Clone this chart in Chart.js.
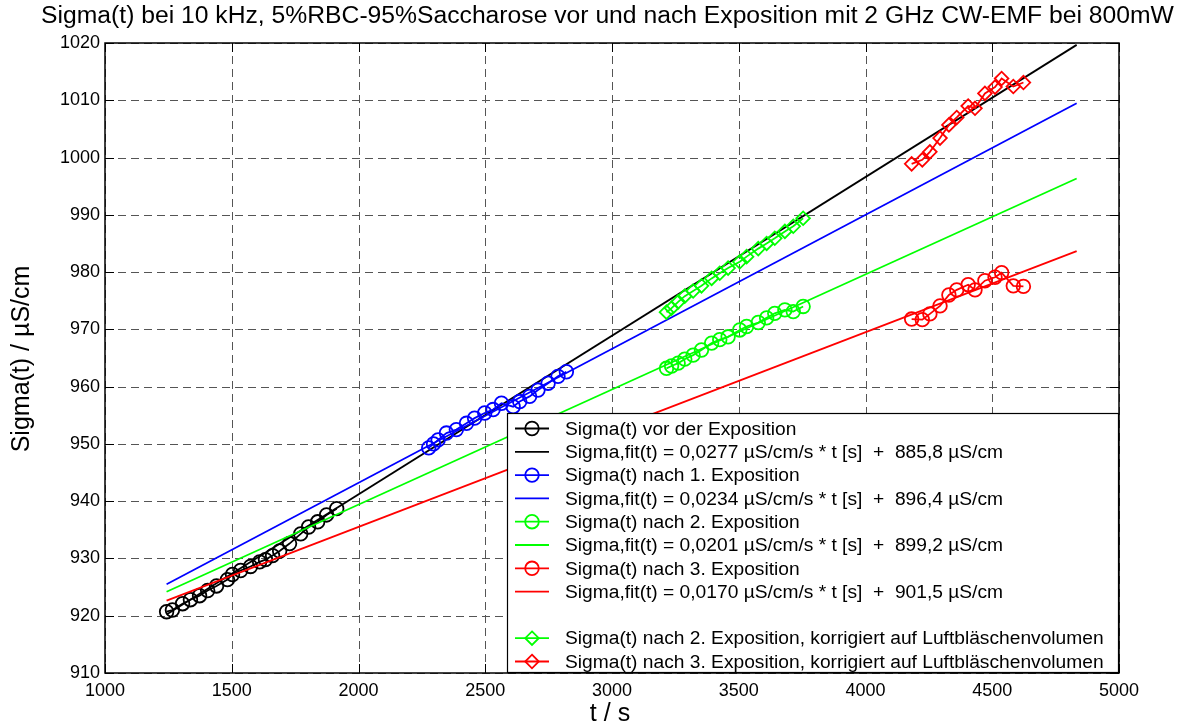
<!DOCTYPE html>
<html>
<head>
<meta charset="utf-8">
<title>Sigma(t) bei 10 kHz</title>
<script src="https://cdn.jsdelivr.net/npm/chart.js@4.4.1/dist/chart.umd.min.js"></script>
<style>
  html, body { margin: 0; padding: 0; background: #fff; overflow: hidden; }
  canvas { display: block; }
</style>
</head>
<body>
<canvas id="chart" width="1186" height="727"></canvas>
<script>
// Axis ticks
const xTicks = [1000, 1500, 2000, 2500, 3000, 3500, 4000, 4500, 5000];
const yTicks = [910, 920, 930, 940, 950, 960, 970, 980, 990, 1000, 1010, 1020];

// Measurement before exposure (t in s, sigma in µS/cm)
const tVor = [1243, 1266, 1306, 1337, 1373, 1405, 1440, 1483, 1503, 1535, 1574, 1610, 1633, 1661, 1689, 1728, 1772, 1803, 1839, 1874, 1914];
const sVor = [920.7, 921.0, 922.1, 922.8, 923.5, 924.4, 925.2, 926.3, 927.2, 927.9, 928.6, 929.4, 929.8, 930.5, 931.3, 932.6, 934.3, 935.5, 936.4, 937.6, 938.7];

// After 1st exposure
const tNach1 = [2277, 2296, 2314, 2347, 2386, 2426, 2458, 2498, 2531, 2564, 2610, 2636, 2675, 2708, 2748, 2787, 2820];
const sNach1 = [949.3, 950.0, 950.7, 951.9, 952.5, 953.6, 954.5, 955.4, 956.0, 957.1, 956.5, 957.4, 958.3, 959.4, 960.6, 961.8, 962.6];

// After 2nd exposure (raw and corrected for air bubble volume)
const tNach2 = [3215, 3235, 3261, 3287, 3320, 3353, 3393, 3425, 3458, 3504, 3531, 3577, 3610, 3642, 3682, 3715, 3754];
const sNach2 = [963.2, 963.6, 964.1, 964.8, 965.5, 966.4, 967.6, 968.2, 968.7, 969.9, 970.5, 971.2, 972.0, 972.8, 973.4, 973.1, 974.0];
const sNach2Korr = [973.0, 973.7, 974.8, 975.8, 976.7, 977.6, 978.9, 979.8, 980.7, 981.8, 982.7, 984.1, 985.0, 985.9, 987.1, 988.0, 989.4];

// After 3rd exposure (raw and corrected for air bubble volume)
const tNach3 = [4182, 4224, 4254, 4294, 4329, 4360, 4405, 4432, 4471, 4511, 4537, 4583, 4623];
const sNach3 = [971.8, 971.7, 972.7, 974.1, 976.0, 976.9, 977.8, 976.9, 978.5, 979.1, 979.9, 977.6, 977.5];
const sNach3Korr = [998.9, 999.6, 1001.0, 1003.4, 1005.7, 1007.0, 1009.0, 1008.6, 1011.2, 1012.3, 1013.8, 1012.4, 1013.1];

// Linear fits sigma = slope * t + offset, drawn over the common time span
const fitSlopes = [0.0277, 0.0234, 0.0201, 0.0170];
const fitOffsets = [885.8, 896.4, 899.2, 901.5];
const fitSpan = [1243, 4833];

const seriesColors = ['#000000', '#0000ff', '#00ff00', '#ff0000'];

const legendLabels = [
  'Sigma(t) vor der Exposition',
  'Sigma,fit(t) = 0,0277 µS/cm/s * t [s]  +  885,8 µS/cm',
  'Sigma(t) nach 1. Exposition',
  'Sigma,fit(t) = 0,0234 µS/cm/s * t [s]  +  896,4 µS/cm',
  'Sigma(t) nach 2. Exposition',
  'Sigma,fit(t) = 0,0201 µS/cm/s * t [s]  +  899,2 µS/cm',
  'Sigma(t) nach 3. Exposition',
  'Sigma,fit(t) = 0,0170 µS/cm/s * t [s]  +  901,5 µS/cm',
  '',
  'Sigma(t) nach 2. Exposition, korrigiert auf Luftbläschenvolumen',
  'Sigma(t) nach 3. Exposition, korrigiert auf Luftbläschenvolumen'
];

const FONT = '"Liberation Sans", Arial, Helvetica, sans-serif';
const MARKER_R = 6.8;
const LW = 1.8;

function pts(ts, vs) { return ts.map((t, i) => ({ x: t, y: vs[i] })); }
function fitPts(k) { return fitSpan.map(t => ({ x: t, y: fitSlopes[k] * t + fitOffsets[k] })); }

function markerSet(ts, vs, color, style) {
  return {
    data: pts(ts, vs), showLine: true, borderColor: color, borderWidth: LW,
    pointStyle: style, pointRadius: MARKER_R, pointBorderWidth: LW,
    pointBorderColor: color, pointBackgroundColor: 'rgba(0,0,0,0)', kind: style
  };
}
function fitSet(k) {
  return {
    data: fitPts(k), showLine: true, borderColor: seriesColors[k], borderWidth: LW,
    pointRadius: 0, kind: 'line'
  };
}

const datasets = [
  markerSet(tVor, sVor, seriesColors[0], 'circle'), fitSet(0),
  markerSet(tNach1, sNach1, seriesColors[1], 'circle'), fitSet(1),
  markerSet(tNach2, sNach2, seriesColors[2], 'circle'), fitSet(2),
  markerSet(tNach3, sNach3, seriesColors[3], 'circle'), fitSet(3),
  null,
  markerSet(tNach2, sNach2Korr, seriesColors[2], 'rectRot'),
  markerSet(tNach3, sNach3Korr, seriesColors[3], 'rectRot')
];
const drawn = datasets.filter(d => d);
// later series are painted on top
drawn.forEach((d, i) => { d.order = drawn.length - i; });

function drawMarker(ctx, style, x, y, color) {
  ctx.save();
  ctx.strokeStyle = color; ctx.lineWidth = LW;
  ctx.beginPath();
  if (style === 'circle') {
    ctx.arc(x, y, MARKER_R, 0, Math.PI * 2);
  } else {
    ctx.moveTo(x, y - MARKER_R); ctx.lineTo(x + MARKER_R, y);
    ctx.lineTo(x, y + MARKER_R); ctx.lineTo(x - MARKER_R, y); ctx.closePath();
  }
  ctx.stroke();
  ctx.restore();
}

const framePlugin = {
  id: 'frame',
  beforeDatasetsDraw(chart) {
    const { ctx, chartArea: a, scales } = chart;
    ctx.save();
    ctx.strokeStyle = '#555'; ctx.lineWidth = 1; ctx.setLineDash([8, 5]);
    xTicks.forEach(v => {
      const x = Math.round(scales.x.getPixelForValue(v)) + 0.5;
      ctx.beginPath(); ctx.moveTo(x, a.top); ctx.lineTo(x, a.bottom); ctx.stroke();
    });
    yTicks.forEach(v => {
      const y = Math.round(scales.y.getPixelForValue(v)) + 0.5;
      ctx.beginPath(); ctx.moveTo(a.left, y); ctx.lineTo(a.right, y); ctx.stroke();
    });
    ctx.restore();
  },
  afterDatasetsDraw(chart) {
    const { ctx, chartArea: a, scales } = chart;
    ctx.save();
    // tick marks on all four sides, pointing inwards
    ctx.strokeStyle = '#000'; ctx.lineWidth = 1; ctx.setLineDash([]);
    const TL = 9;
    xTicks.forEach(v => {
      const x = Math.round(scales.x.getPixelForValue(v)) + 0.5;
      ctx.beginPath();
      ctx.moveTo(x, a.bottom); ctx.lineTo(x, a.bottom - TL);
      ctx.moveTo(x, a.top); ctx.lineTo(x, a.top + TL);
      ctx.stroke();
    });
    yTicks.forEach(v => {
      const y = Math.round(scales.y.getPixelForValue(v)) + 0.5;
      ctx.beginPath();
      ctx.moveTo(a.left, y); ctx.lineTo(a.left + TL, y);
      ctx.moveTo(a.right, y); ctx.lineTo(a.right - TL, y);
      ctx.stroke();
    });
    ctx.lineWidth = 1.5;
    ctx.strokeRect(a.left, a.top, a.right - a.left, a.bottom - a.top);

    // legend box in the lower right corner
    const box = { left: 507, top: 413, right: a.right, bottom: a.bottom };
    ctx.fillStyle = '#fff';
    ctx.fillRect(box.left, box.top, box.right - box.left, box.bottom - box.top);
    ctx.lineWidth = 1.2; ctx.strokeStyle = '#000';
    ctx.strokeRect(box.left + 0.5, box.top + 0.5, box.right - box.left - 1, box.bottom - box.top - 1);
    ctx.font = '19.2px ' + FONT;
    ctx.textBaseline = 'middle'; ctx.textAlign = 'left';
    legendLabels.forEach((label, i) => {
      const ds = datasets[i];
      if (!ds) return;
      const y = 428.5 + i * 23.3;
      ctx.strokeStyle = ds.borderColor; ctx.lineWidth = LW;
      ctx.beginPath(); ctx.moveTo(515, y); ctx.lineTo(549, y); ctx.stroke();
      if (ds.kind !== 'line') drawMarker(ctx, ds.kind, 532, y, ds.borderColor);
      ctx.fillStyle = '#000';
      ctx.fillText(label, 565, y + 1);
    });

    // title and axis titles
    ctx.fillStyle = '#000';
    ctx.textAlign = 'center'; ctx.textBaseline = 'middle';
    ctx.font = '24.7px ' + FONT;
    ctx.fillText('Sigma(t) bei 10 kHz, 5%RBC-95%Saccharose vor und nach Exposition mit 2 GHz CW-EMF bei 800mW', 607.5, 16);
    ctx.font = '25px ' + FONT;
    ctx.fillText('t / s', 610, 714);
    ctx.translate(22, 359);
    ctx.rotate(-Math.PI / 2);
    ctx.fillText('Sigma(t) / µS/cm', 0, 0);
    ctx.restore();
  }
};

new Chart(document.getElementById('chart'), {
  type: 'scatter',
  data: { datasets: drawn },
  options: {
    responsive: false,
    animation: false,
    devicePixelRatio: 1,
    layout: { padding: { left: 0, right: 67, top: 43, bottom: 0 } },
    plugins: { legend: { display: false }, title: { display: false }, tooltip: { enabled: false } },
    scales: {
      x: {
        type: 'linear', min: 1000, max: 5000,
        afterBuildTicks: s => { s.ticks = xTicks.map(v => ({ value: v })); },
        afterFit: s => { s.height = 54; },
        grid: { display: false, drawTicks: false }, border: { display: false },
        ticks: { color: '#000', font: { family: FONT, size: 18 }, padding: 7, maxRotation: 0, autoSkip: false, callback: v => String(v) }
      },
      y: {
        type: 'linear', min: 910, max: 1020,
        afterBuildTicks: s => { s.ticks = yTicks.map(v => ({ value: v })); },
        afterFit: s => { s.width = 105; },
        grid: { display: false, drawTicks: false }, border: { display: false },
        ticks: { color: '#000', font: { family: FONT, size: 18 }, padding: 5, autoSkip: false, callback: v => String(v) }
      }
    }
  },
  plugins: [framePlugin]
});
</script>
</body>
</html>
